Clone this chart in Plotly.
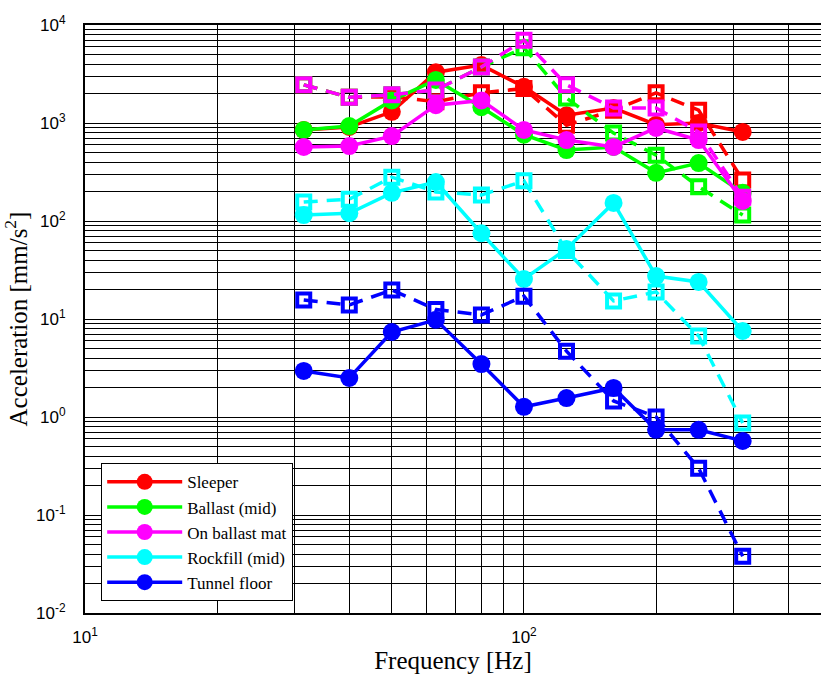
import numpy as np
import plotly.graph_objects as go

freq = [31.5, 40, 50, 63, 80, 100, 125, 160, 200, 250, 315]

names = ["Sleeper", "Ballast (mid)", "On ballast mat", "Rockfill (mid)", "Tunnel floor"]
colors = ["#ff0000", "#00ff00", "#ff00ff", "#00ffff", "#0000ff"]

# solid lines (circles)
sleeper_solid = [850, 910, 1300, 3300, 3900, 2340, 1200, 1420, 960, 1000, 810]
ballast_solid = [850, 930, 1700, 2750, 1450, 760, 530, 570, 310, 390, 194]
mat_solid = [569, 582, 735, 1520, 1700, 850, 670, 570, 890, 670, 160]
rockfill_solid = [115, 120, 194, 250, 75, 25.6, 51.8, 153, 27.4, 23.9, 7.55]
tunnel_solid = [2.95, 2.5, 7.37, 9.8, 3.47, 1.27, 1.56, 1.98, 0.74, 0.74, 0.57]

# dashed lines (squares)
sleeper_dash = [2450, 1830, 1850, 1650, 2030, 2250, 950, 1350, 2030, 1350, 262]
ballast_dash = [2450, 1830, 1940, 2170, 3730, 5850, 1800, 790, 470, 224, 115]
mat_dash = [2450, 1830, 1940, 2170, 3730, 7000, 2450, 1420, 1420, 810, 175]
rockfill_dash = [156, 167, 280, 198, 184, 257, 50, 15.3, 18.9, 6.7, 0.87]
tunnel_dash = [15.6, 13.9, 19.8, 12.5, 11.0, 17.1, 4.7, 1.46, 1.0, 0.30, 0.038]

solids = [sleeper_solid, ballast_solid, mat_solid, rockfill_solid, tunnel_solid]
dashes = [sleeper_dash, ballast_dash, mat_dash, rockfill_dash, tunnel_dash]

SERIF = "Times New Roman, Liberation Serif, DejaVu Serif, serif"

fig = go.Figure()
for name, col, s, d in zip(names, colors, solids, dashes):
    fig.add_trace(go.Scatter(
        x=freq, y=d, mode="lines+markers", showlegend=False,
        line=dict(color=col, width=3.5, dash="14px,9px"),
        marker=dict(symbol="square-open", size=13, color=col, line=dict(width=4, color=col)),
    ))
    fig.add_trace(go.Scatter(
        x=freq, y=s, mode="lines+markers", name=name,
        line=dict(color=col, width=3.5),
        marker=dict(symbol="circle", size=18, color=col),
    ))

# grid positions (ticks at decades labelled, minors unlabelled)
x_tickvals, x_ticktext = [], []
for dec in [10, 100]:
    for m in range(1, 10):
        x_tickvals.append(m * dec)
        x_ticktext.append("10<sup>%d</sup>" % int(np.log10(dec)) if m == 1 else "")
y_tickvals, y_ticktext = [], []
for e in range(-2, 4):
    for m in range(1, 10):
        y_tickvals.append(m * 10.0 ** e)
        y_ticktext.append("10<sup>%d</sup>" % e if m == 1 else "")
y_tickvals.append(1e4)
y_ticktext.append("10<sup>4</sup>")

fig.update_layout(
    width=821, height=678,
    margin=dict(l=85, r=0, t=25, b=65),
    paper_bgcolor="white", plot_bgcolor="white",
    font=dict(family="Liberation Sans, Arial, sans-serif", size=17, color="black"),
    xaxis=dict(
        type="log", range=[1, np.log10(475)], automargin=False,
        tickmode="array", tickvals=x_tickvals, ticktext=x_ticktext,
        showgrid=True, gridcolor="black", gridwidth=1,
        showline=True, linecolor="black", linewidth=2, mirror=True,
        ticks="", zeroline=False, ticklabelstandoff=8,
        title=dict(text="Frequency [Hz]", font=dict(family=SERIF, size=25), standoff=2),
    ),
    yaxis=dict(
        type="log", range=[-2, 4], automargin=False,
        tickmode="array", tickvals=y_tickvals, ticktext=y_ticktext,
        showgrid=True, gridcolor="black", gridwidth=1,
        showline=True, linecolor="black", linewidth=2, mirror=False,
        ticks="", zeroline=False, ticklabelstandoff=14,
        title=dict(text="Acceleration [mm/s<sup>2</sup>]", font=dict(family=SERIF, size=25), standoff=10),
    ),
    legend=dict(
        x=0.022, y=0.02, xanchor="left", yanchor="bottom",
        bgcolor="white", bordercolor="black", borderwidth=1,
        font=dict(family=SERIF, size=17),
        itemwidth=75, tracegroupgap=0,
    ),
)

fig.write_html(
    "out.html",
    config={"displayModeBar": False},
    post_script="document.body.style.margin='0';document.body.style.overflow='hidden';",
)
